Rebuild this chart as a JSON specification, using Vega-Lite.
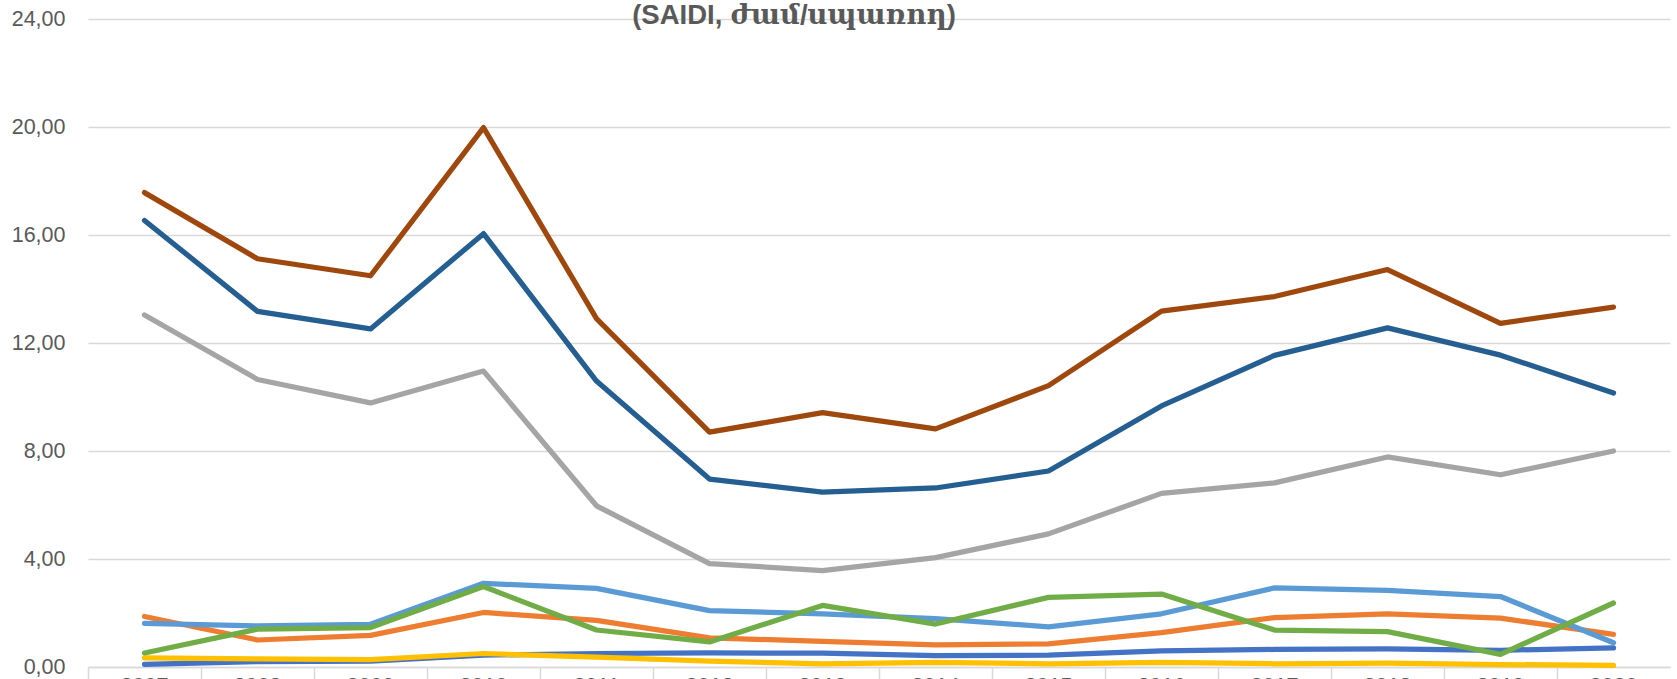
{
  "$schema": "https://vega.github.io/schema/vega-lite/v6.json",
  "width": 1582,
  "height": 648,
  "autosize": {"type": "none"},
  "padding": {"left": 88, "top": 19, "right": 7, "bottom": 12},
  "background": "white",
  "title": {
    "text": "(SAIDI, ժամ/սպառող)",
    "fontSize": 27.5,
    "fontWeight": "bold",
    "color": "#595959",
    "font": "Liberation Sans, DejaVu Serif",
    "anchor": "middle",
    "dx": -85,
    "offset": -43,
    "baseline": "alphabetic"
  },
  "data": {
    "values": [
      {"year": "2007", "series": "S1", "value": 0.10},
      {"year": "2008", "series": "S1", "value": 0.20},
      {"year": "2009", "series": "S1", "value": 0.22},
      {"year": "2010", "series": "S1", "value": 0.44},
      {"year": "2011", "series": "S1", "value": 0.50},
      {"year": "2012", "series": "S1", "value": 0.52},
      {"year": "2013", "series": "S1", "value": 0.51},
      {"year": "2014", "series": "S1", "value": 0.42},
      {"year": "2015", "series": "S1", "value": 0.44},
      {"year": "2016", "series": "S1", "value": 0.60},
      {"year": "2017", "series": "S1", "value": 0.65},
      {"year": "2018", "series": "S1", "value": 0.67},
      {"year": "2019", "series": "S1", "value": 0.62},
      {"year": "2020", "series": "S1", "value": 0.71},

      {"year": "2007", "series": "S2", "value": 1.87},
      {"year": "2008", "series": "S2", "value": 1.00},
      {"year": "2009", "series": "S2", "value": 1.17},
      {"year": "2010", "series": "S2", "value": 2.02},
      {"year": "2011", "series": "S2", "value": 1.73},
      {"year": "2012", "series": "S2", "value": 1.08},
      {"year": "2013", "series": "S2", "value": 0.95},
      {"year": "2014", "series": "S2", "value": 0.82},
      {"year": "2015", "series": "S2", "value": 0.86},
      {"year": "2016", "series": "S2", "value": 1.27},
      {"year": "2017", "series": "S2", "value": 1.83},
      {"year": "2018", "series": "S2", "value": 1.97},
      {"year": "2019", "series": "S2", "value": 1.81},
      {"year": "2020", "series": "S2", "value": 1.21},

      {"year": "2007", "series": "S3", "value": 13.04},
      {"year": "2008", "series": "S3", "value": 10.65},
      {"year": "2009", "series": "S3", "value": 9.78},
      {"year": "2010", "series": "S3", "value": 10.96},
      {"year": "2011", "series": "S3", "value": 5.97},
      {"year": "2012", "series": "S3", "value": 3.83},
      {"year": "2013", "series": "S3", "value": 3.57},
      {"year": "2014", "series": "S3", "value": 4.05},
      {"year": "2015", "series": "S3", "value": 4.93},
      {"year": "2016", "series": "S3", "value": 6.43},
      {"year": "2017", "series": "S3", "value": 6.82},
      {"year": "2018", "series": "S3", "value": 7.78},
      {"year": "2019", "series": "S3", "value": 7.12},
      {"year": "2020", "series": "S3", "value": 8.00},

      {"year": "2007", "series": "S4", "value": 0.34},
      {"year": "2008", "series": "S4", "value": 0.30},
      {"year": "2009", "series": "S4", "value": 0.27},
      {"year": "2010", "series": "S4", "value": 0.50},
      {"year": "2011", "series": "S4", "value": 0.37},
      {"year": "2012", "series": "S4", "value": 0.22},
      {"year": "2013", "series": "S4", "value": 0.12},
      {"year": "2014", "series": "S4", "value": 0.17},
      {"year": "2015", "series": "S4", "value": 0.12},
      {"year": "2016", "series": "S4", "value": 0.17},
      {"year": "2017", "series": "S4", "value": 0.12},
      {"year": "2018", "series": "S4", "value": 0.14},
      {"year": "2019", "series": "S4", "value": 0.09},
      {"year": "2020", "series": "S4", "value": 0.06},

      {"year": "2007", "series": "S5", "value": 1.62},
      {"year": "2008", "series": "S5", "value": 1.52},
      {"year": "2009", "series": "S5", "value": 1.58},
      {"year": "2010", "series": "S5", "value": 3.10},
      {"year": "2011", "series": "S5", "value": 2.91},
      {"year": "2012", "series": "S5", "value": 2.09},
      {"year": "2013", "series": "S5", "value": 1.97},
      {"year": "2014", "series": "S5", "value": 1.79},
      {"year": "2015", "series": "S5", "value": 1.49},
      {"year": "2016", "series": "S5", "value": 1.97},
      {"year": "2017", "series": "S5", "value": 2.93},
      {"year": "2018", "series": "S5", "value": 2.84},
      {"year": "2019", "series": "S5", "value": 2.61},
      {"year": "2020", "series": "S5", "value": 0.90},

      {"year": "2007", "series": "S6", "value": 0.52},
      {"year": "2008", "series": "S6", "value": 1.40},
      {"year": "2009", "series": "S6", "value": 1.46},
      {"year": "2010", "series": "S6", "value": 2.98},
      {"year": "2011", "series": "S6", "value": 1.37},
      {"year": "2012", "series": "S6", "value": 0.93},
      {"year": "2013", "series": "S6", "value": 2.28},
      {"year": "2014", "series": "S6", "value": 1.59},
      {"year": "2015", "series": "S6", "value": 2.58},
      {"year": "2016", "series": "S6", "value": 2.70},
      {"year": "2017", "series": "S6", "value": 1.37},
      {"year": "2018", "series": "S6", "value": 1.31},
      {"year": "2019", "series": "S6", "value": 0.47},
      {"year": "2020", "series": "S6", "value": 2.37},

      {"year": "2007", "series": "S7", "value": 16.54},
      {"year": "2008", "series": "S7", "value": 13.17},
      {"year": "2009", "series": "S7", "value": 12.52},
      {"year": "2010", "series": "S7", "value": 16.05},
      {"year": "2011", "series": "S7", "value": 10.59},
      {"year": "2012", "series": "S7", "value": 6.96},
      {"year": "2013", "series": "S7", "value": 6.48},
      {"year": "2014", "series": "S7", "value": 6.63},
      {"year": "2015", "series": "S7", "value": 7.26},
      {"year": "2016", "series": "S7", "value": 9.67},
      {"year": "2017", "series": "S7", "value": 11.54},
      {"year": "2018", "series": "S7", "value": 12.56},
      {"year": "2019", "series": "S7", "value": 11.55},
      {"year": "2020", "series": "S7", "value": 10.15},

      {"year": "2007", "series": "S8", "value": 17.57},
      {"year": "2008", "series": "S8", "value": 15.12},
      {"year": "2009", "series": "S8", "value": 14.49},
      {"year": "2010", "series": "S8", "value": 19.98},
      {"year": "2011", "series": "S8", "value": 12.90},
      {"year": "2012", "series": "S8", "value": 8.70},
      {"year": "2013", "series": "S8", "value": 9.42},
      {"year": "2014", "series": "S8", "value": 8.82},
      {"year": "2015", "series": "S8", "value": 10.42},
      {"year": "2016", "series": "S8", "value": 13.18},
      {"year": "2017", "series": "S8", "value": 13.72},
      {"year": "2018", "series": "S8", "value": 14.72},
      {"year": "2019", "series": "S8", "value": 12.73},
      {"year": "2020", "series": "S8", "value": 13.33}
    ]
  },
  "mark": {"type": "line", "strokeWidth": 5.25, "strokeCap": "round", "strokeJoin": "round"},
  "encoding": {
    "x": {
      "field": "year",
      "type": "ordinal",
      "scale": {"type": "band", "paddingInner": 0, "paddingOuter": 0},
      "axis": {
        "title": null,
        "bandPosition": 0,
        "labelOffset": 0,
        "labelAngle": 0,
        "grid": false,
        "ticks": true,
        "tickSize": 14,
        "tickColor": "#d9d9d9",
        "tickWidth": 1.5,
        "domainColor": "#d9d9d9",
        "domainWidth": 1.5,
        "labelPadding": -6,
        "labelFont": "Liberation Sans",
        "labelFontSize": 21.5,
        "labelColor": "#595959"
      }
    },
    "y": {
      "field": "value",
      "type": "quantitative",
      "scale": {"domain": [0, 24], "nice": false},
      "axis": {
        "title": null,
        "values": [0, 4, 8, 12, 16, 20, 24],
        "labelExpr": "replace(format(datum.value, '.2f'), '.', ',')",
        "domain": false,
        "ticks": false,
        "labelPadding": 23,
        "labelFont": "Liberation Sans",
        "labelFontSize": 21.5,
        "labelColor": "#595959",
        "gridColor": "#d9d9d9",
        "gridWidth": 1.5
      }
    },
    "color": {
      "field": "series",
      "type": "nominal",
      "legend": null,
      "scale": {
        "domain": ["S1", "S2", "S3", "S4", "S5", "S6", "S7", "S8"],
        "range": ["#4472C4", "#ED7D31", "#A5A5A5", "#FFC000", "#5B9BD5", "#70AD47", "#255E91", "#9E480E"]
      }
    }
  },
  "config": {"view": {"stroke": null}}
}
